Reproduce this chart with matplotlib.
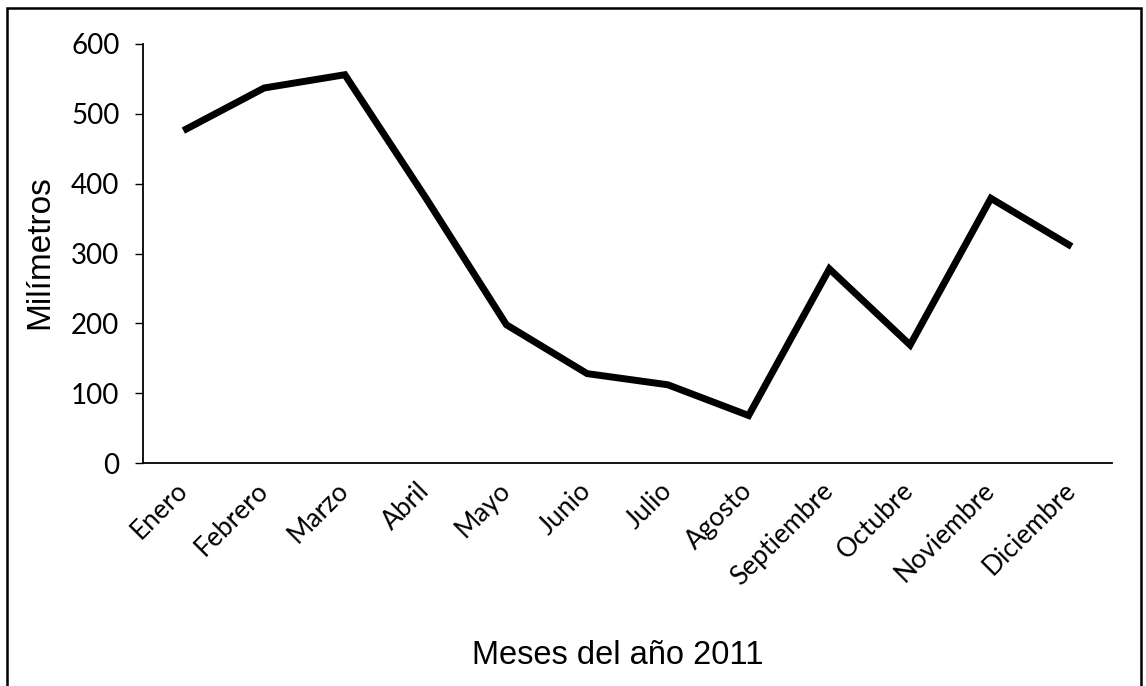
import matplotlib
matplotlib.use("Agg")
import matplotlib.pyplot as plt
from matplotlib.patches import Rectangle

# Monthly rainfall, 2011 (mm)
months = ["Enero", "Febrero", "Marzo", "Abril", "Mayo", "Junio", "Julio",
          "Agosto", "Septiembre", "Octubre", "Noviembre", "Diciembre"]
rain_mm = [476, 537, 556, 380, 198, 128, 112, 68, 278, 169, 379, 310]
y_ticks = [0, 100, 200, 300, 400, 500, 600]

W, H = 1146, 686
fig = plt.figure(figsize=(W / 100, H / 100), dpi=100)
fig.patch.set_facecolor("white")

left, right, top, bottom = 143, 1112, 44, 463
ax = fig.add_axes([left / W, 1 - bottom / H, (right - left) / W, (bottom - top) / H])

x = list(range(len(months)))
ax.plot(x, rain_mm, color="black", linewidth=5.0, solid_joinstyle="miter",
        solid_capstyle="butt")

ax.set_xlim(-0.5, len(months) - 0.5)
ax.set_ylim(0, 600)
ax.set_yticks(y_ticks)
ax.set_yticklabels([str(v) for v in y_ticks], family="Lato", fontsize=20)
ax.set_xticks(x)
ax.set_xticklabels(months, family="Lato", fontsize=19, rotation=45,
                   ha="right", va="center", rotation_mode="anchor")

for side in ("top", "right"):
    ax.spines[side].set_visible(False)
for side in ("left", "bottom"):
    ax.spines[side].set_color("black")
    ax.spines[side].set_linewidth(1.3)

ax.tick_params(axis="y", direction="out", length=6, width=1.0, pad=11, colors="black")
ax.tick_params(axis="x", length=0, pad=17, colors="black")

# Axis titles
fig.text(40 / W, 1 - 252 / H, "Milímetros", rotation=90, ha="center", va="center",
         family="Liberation Sans", fontsize=24)
fig.text(618 / W, 1 - 655 / H, "Meses del año 2011", ha="center", va="center",
         family="Liberation Sans", fontsize=23.5)

# Outer chart frame
frame = Rectangle((7 / W, -0.02), (1141 - 7) / W, 1 - 8 / H + 0.02,
                  transform=fig.transFigure, fill=False, edgecolor="black",
                  linewidth=1.8, clip_on=False)
fig.patches.append(frame)

fig.savefig("out.png", dpi=100, facecolor="white")
